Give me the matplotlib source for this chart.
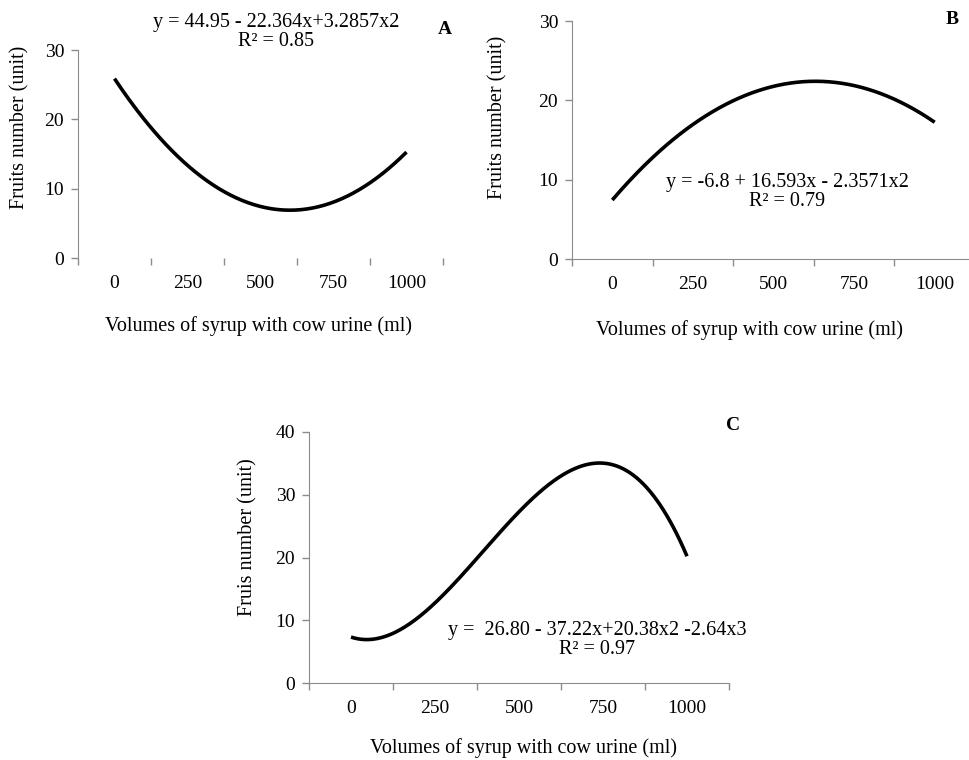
import numpy as np
import matplotlib.pyplot as plt
from matplotlib.ticker import FixedLocator, NullFormatter, FixedFormatter

plt.rcParams['font.family'] = ['Liberation Serif', 'DejaVu Serif']

# Treatment levels (category axis) and their volumes
levels = [1, 2, 3, 4, 5]
volume_labels = ['0', '250', '500', '750', '1000']

# Fitted polynomial coefficients, highest power first (x = level index)
coef_a = [3.2857, -22.364, 44.95]
coef_b = [-2.3571, 16.593, -6.8]
coef_c = [-2.64, 20.38, -37.22, 26.80]

eq_a = 'y = 44.95 - 22.364x+3.2857x2\nR² = 0.85'
eq_b = 'y = -6.8 + 16.593x - 2.3571x2\nR² = 0.79'
eq_c = 'y =  26.80 - 37.22x+20.38x2 -2.64x3\nR² = 0.97'

W, H = 970, 760
fig = plt.figure(figsize=(W / 100, H / 100), dpi=100)
GREY = '#8c8c8c'
FS = 14.5
TICK_FS = 14


def px_axes(left, top, right, bottom):
    return fig.add_axes([left / W, 1 - bottom / H, (right - left) / W, (bottom - top) / H])


def px_text(x, y, s, **kw):
    kw.setdefault('fontsize', FS)
    return fig.text(x / W, 1 - y / H, s, ha='center', va='center', **kw)


def panel(ax, coef, ymax, show_bottom=True):
    xs = np.linspace(levels[0], levels[-1], 200)
    ax.plot(xs, np.polyval(coef, xs), color='black', lw=2.6, solid_capstyle='butt')
    ax.set_xlim(0.5, 5.5)
    ax.set_ylim(0, ymax)
    ax.set_yticks(np.arange(0, ymax + 1, 10))
    # category boundaries carry the tick marks, centres carry the labels
    ax.xaxis.set_major_locator(FixedLocator(np.arange(0.5, 6, 1)))
    ax.xaxis.set_major_formatter(NullFormatter())
    ax.xaxis.set_minor_locator(FixedLocator(levels))
    ax.xaxis.set_minor_formatter(FixedFormatter(volume_labels))
    ax.tick_params(axis='x', which='minor', length=0, pad=12, labelsize=TICK_FS)
    ax.tick_params(axis='x', which='major', length=5, color=GREY, width=1)
    ax.tick_params(axis='y', length=5, color=GREY, width=1, labelsize=TICK_FS, pad=5)
    for s in ('top', 'right'):
        ax.spines[s].set_visible(False)
    ax.spines['left'].set_color(GREY)
    ax.spines['bottom'].set_color(GREY)
    ax.spines['bottom'].set_visible(show_bottom)
    ax.patch.set_alpha(0)


# Panel A
ax_a = px_axes(78, 50, 443, 258)
panel(ax_a, coef_a, 30, show_bottom=False)
px_text(276, 32, eq_a, linespacing=1.05)
px_text(445, 29, 'A', fontsize=14, fontweight='bold')
px_text(259, 326, 'Volumes of syrup with cow urine (ml)')
px_text(20, 127, 'Fruits number (unit)', rotation=90)

# Panel B
ax_b = px_axes(572, 21, 975, 259)
panel(ax_b, coef_b, 30)
px_text(787, 192, eq_b, linespacing=1.05)
px_text(952, 20, 'B', fontsize=14, fontweight='bold')
px_text(749, 330, 'Volumes of syrup with cow urine (ml)')
px_text(498, 117, 'Fruits number (unit)', rotation=90)

# Panel C
ax_c = px_axes(309, 432, 729, 683)
panel(ax_c, coef_c, 40)
px_text(597, 640, eq_c, linespacing=1.05)
px_text(733, 425, 'C', fontsize=14, fontweight='bold')
px_text(524, 748, 'Volumes of syrup with cow urine (ml)')
px_text(248, 537, 'Fruis number (unit)', rotation=90)

fig.savefig('out.png', dpi=100)
